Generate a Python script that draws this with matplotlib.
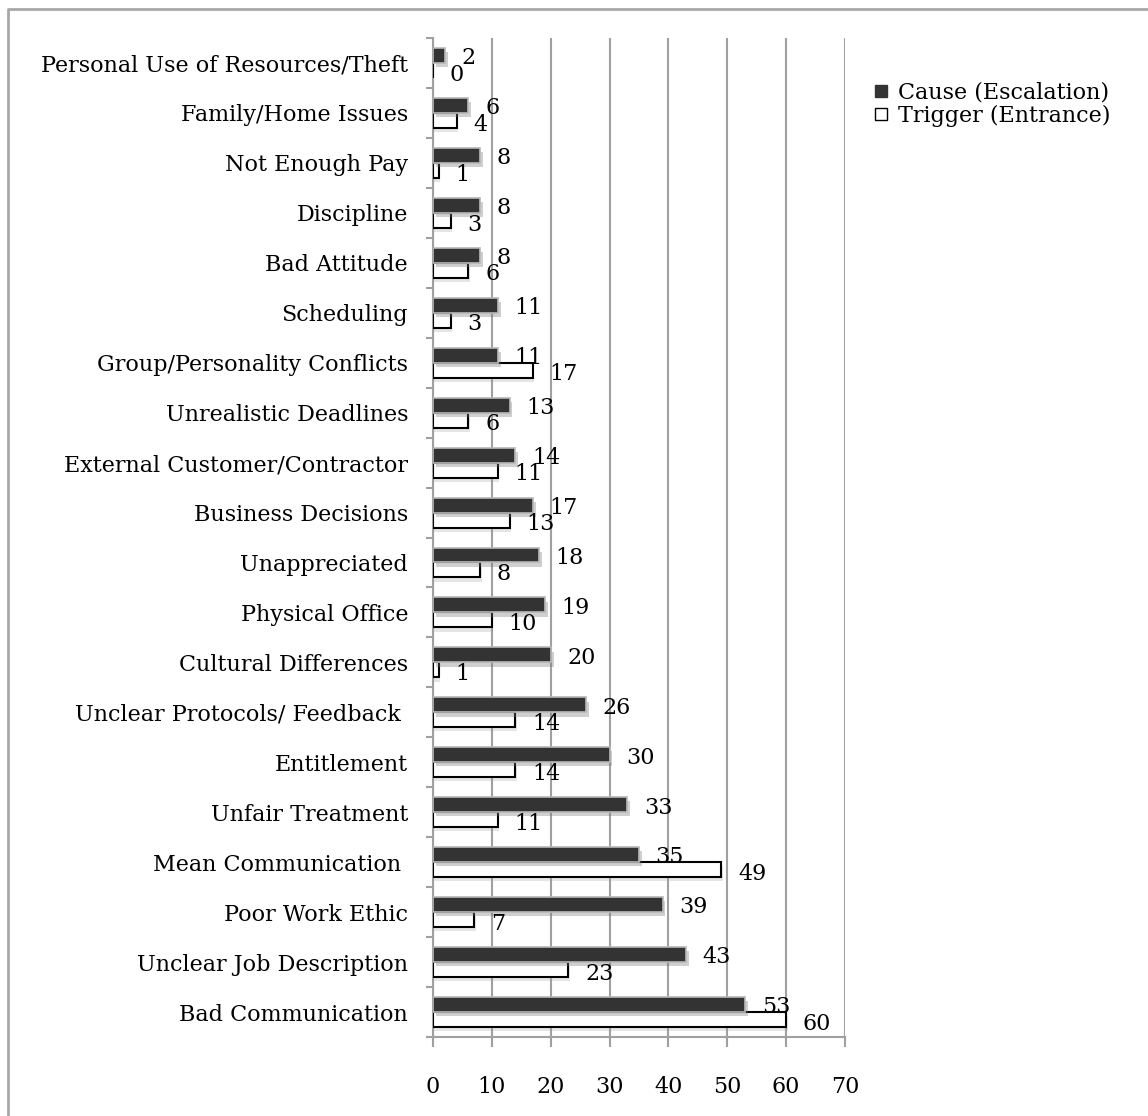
import matplotlib.pyplot as plt
import matplotlib.patheffects as pe
from matplotlib.lines import Line2D
import numpy as np

plt.rcParams['font.family'] = ['DejaVu Serif']

# Categories from top to bottom as shown in the chart
categories = ['Personal Use of Resources/Theft', 'Family/Home Issues', 'Not Enough Pay',
              'Discipline', 'Bad Attitude', 'Scheduling', 'Group/Personality Conflicts',
              'Unrealistic Deadlines', 'External Customer/Contractor', 'Business Decisions',
              'Unappreciated', 'Physical Office', 'Cultural Differences',
              'Unclear Protocols/ Feedback ', 'Entitlement', 'Unfair Treatment',
              'Mean Communication ', 'Poor Work Ethic', 'Unclear Job Description',
              'Bad Communication']
cause = [2, 6, 8, 8, 8, 11, 11, 13, 14, 17, 18, 19, 20, 26, 30, 33, 35, 39, 43, 53]
trigger = [0, 4, 1, 3, 6, 3, 17, 6, 11, 13, 8, 10, 1, 14, 14, 11, 49, 7, 23, 60]
x_ticks = [0, 10, 20, 30, 40, 50, 60, 70]

fs = 16

fig = plt.figure(figsize=(11.48, 11.16), dpi=100)
ax = fig.add_axes([0.3772, 0.0708, 0.7361 - 0.3772, 0.9659 - 0.0708])

n = len(categories)
y = np.arange(n)[::-1]  # first category at the top
h = 0.3

shadow = [pe.SimplePatchShadow(offset=(2, -3), shadow_rgbFace='#777777', alpha=0.35), pe.Normal()]
bc = ax.barh(y + h / 2, cause, height=h, color='#333333', edgecolor='#b8b8b8',
             linewidth=1.2, zorder=4)
for b in bc:
    b.set_path_effects(shadow)
bt = ax.barh(y - h / 2, trigger, height=h, color='white', edgecolor='black',
             linewidth=1.5, zorder=3)
for b in bt:
    b.set_path_effects([pe.SimplePatchShadow(offset=(1, -3), shadow_rgbFace='#999999', alpha=0.25), pe.Normal()])

# data labels
for yi, v in zip(y, cause):
    ax.annotate(str(v), (v, yi + h / 2), xytext=(12, -2), textcoords='offset points',
                ha='left', va='center', fontsize=fs, zorder=6)
for yi, v in zip(y, trigger):
    ax.annotate(str(v), (v, yi - h / 2), xytext=(12, -3), textcoords='offset points',
                ha='left', va='center', fontsize=fs, zorder=6)

ax.set_xlim(0, 70)
ax.set_ylim(-0.5, n - 0.5)
ax.set_xticks(x_ticks)
ax.set_xticklabels([str(t) for t in x_ticks], fontsize=fs)
ax.set_yticks(y)
ax.set_yticklabels(categories, fontsize=fs)
ax.set_yticks(np.arange(n + 1) - 0.5, minor=True)

ax.xaxis.grid(True, color='#a0a0a0', linewidth=1.5, zorder=0)
ax.set_axisbelow(True)

for s in ['top', 'right']:
    ax.spines[s].set_visible(False)
for s in ['left', 'bottom']:
    ax.spines[s].set_color('#a0a0a0')
    ax.spines[s].set_linewidth(1.5)

ax.tick_params(axis='x', which='major', length=7, width=1.5, color='#a0a0a0', pad=21)
ax.tick_params(axis='y', which='major', length=0, pad=18)
ax.tick_params(axis='y', which='minor', length=5, width=1.5, color='#a0a0a0')

# Legend
handles = [Line2D([], [], marker='s', linestyle='none', markersize=8,
                  markerfacecolor='#333333', markeredgecolor='#333333'),
           Line2D([], [], marker='s', linestyle='none', markersize=8,
                  markerfacecolor='white', markeredgecolor='black')]
fig.legend(handles, ['Cause (Escalation)', 'Trigger (Entrance)'], loc='upper left',
           bbox_to_anchor=(874 / 1148, 1 - 82 / 1116), frameon=False, fontsize=fs,
           handlelength=0.6, handletextpad=0.5, labelspacing=0.05, borderpad=0,
           borderaxespad=0)

# Outer chart border
fig.add_artist(Line2D([8 / 1148, 8 / 1148, 1.0], [0.0, 1 - 9 / 1116, 1 - 9 / 1116],
                      transform=fig.transFigure, color='#a8a8a8', linewidth=2))

plt.savefig('out.png', dpi=100)
